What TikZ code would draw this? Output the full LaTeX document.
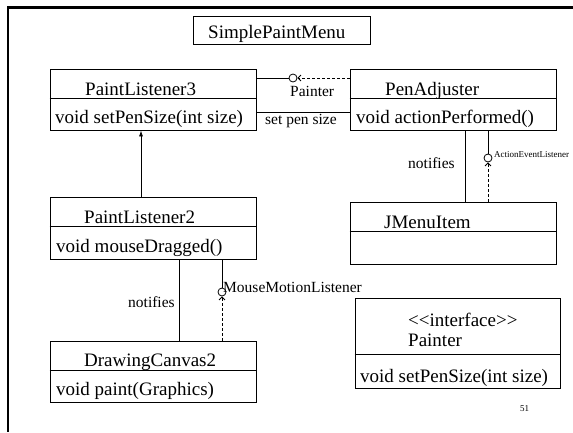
\documentclass[tikz,border=0pt]{standalone}
\usepackage{fontspec}
\setmainfont{Liberation Serif}
\usetikzlibrary{arrows.meta}
\tikzset{
  boxst/.style={draw, line width=0.8pt, rectangle, inner sep=0pt},
  divst/.style={line width=0.8pt},
  big/.style={anchor=base west, inner sep=0pt, font=\fontsize{19}{22}\selectfont},
  lbl/.style={anchor=base west, inner sep=0pt, font=\fontsize{15.5}{18}\selectfont},
  tiny/.style={anchor=base west, inner sep=0pt, font=\fontsize{9}{10}\selectfont},
  conn/.style={line width=0.8pt},
  dconn/.style={line width=0.8pt, dash pattern=on 3pt off 2pt},
  lolli/.style={draw, circle, line width=0.8pt, minimum size=8pt, inner sep=0pt},
  barb/.style={-{Straight Barb[length=3pt,width=6pt,line width=0.8pt]}},
  frame/.style={line width=2.5pt}
}
\begin{document}
\begin{tikzpicture}[x=1pt,y=-1pt]
\useasboundingbox (0,0) rectangle (573,432);
% slide frame
\coordinate (ftl) at (8,7.5);
\coordinate (ftr) at (573,7.5);
\coordinate (fbl) at (8,432);
\draw[frame] (ftr) -- (ftl) -- (fbl);

% SimplePaintMenu
\node[boxst, minimum width=177pt, minimum height=28pt] (spm) at (281.5,30) {};
\node[big] (spmt) at (208,38) {SimplePaintMenu};

% PaintListener3
\node[boxst, minimum width=206pt, minimum height=61pt] (pl3) at (153,99.5) {};
\draw[divst] (pl3.west |- 0,98) -- (pl3.east |- 0,98);
\node[big] (pl3t) at (85,95) {PaintListener3};
\node[big] (pl3m) at (55,123) {void setPenSize(int size)};

% PenAdjuster
\node[boxst, minimum width=206pt, minimum height=61pt] (pa) at (453,99.5) {};
\draw[divst] (pa.west |- 0,98) -- (pa.east |- 0,98);
\node[big] (pat) at (385,95) {PenAdjuster};
\node[big] (pam) at (356,123) {void actionPerformed()};

% PaintListener2
\node[boxst, minimum width=206pt, minimum height=62pt] (pl2) at (153,228) {};
\draw[divst] (pl2.west |- 0,226) -- (pl2.east |- 0,226);
\node[big] (pl2t) at (84,223) {PaintListener2};
\node[big] (pl2m) at (56,252) {void mouseDragged()};

% DrawingCanvas2
\node[boxst, minimum width=206pt, minimum height=61pt] (dc2) at (153,371.5) {};
\draw[divst] (dc2.west |- 0,370) -- (dc2.east |- 0,370);
\node[big] (dc2t) at (84,366) {DrawingCanvas2};
\node[big] (dc2m) at (56,395) {void paint(Graphics)};

% JMenuItem
\node[boxst, minimum width=206pt, minimum height=62pt] (jmi) at (453,233) {};
\draw[divst] (jmi.west |- 0,231) -- (jmi.east |- 0,231);
\node[big] (jmit) at (384,228) {JMenuItem};

% Painter interface
\node[boxst, minimum width=205pt, minimum height=90pt] (pif) at (457.5,343) {};
\draw[divst] (pif.west |- 0,354) -- (pif.east |- 0,354);
\node[big] (pifs) at (408,326) {<\kern0pt<interface>\kern0pt>};
\node[big] (pifn) at (408,346) {Painter};
\node[big] (pifm) at (360,382) {void setPenSize(int size)};

% Painter lollipop between PaintListener3 and PenAdjuster
\node[lolli] (c1) at (293,78) {};
\draw[conn] (pl3.east |- c1) -- (c1.west);
\draw[dconn, barb] (pa.west |- c1) -- (c1.east);
\node[lbl] (c1l) at (290,96) {Painter};

% set pen size
\coordinate (sps) at (256,112);
\draw[conn] (pl3.east |- sps) -- (pa.west |- sps);
\node[lbl] (spsl) at (265,124) {set pen size};

% PaintListener2 -> PaintListener3
\coordinate (inh) at (141,0);
\draw[conn, -{Latex[length=6pt,width=4pt]}] (pl2.north -| inh) -- (pl3.south -| inh);

% notifies (left)
\coordinate (nl) at (179,0);
\draw[conn] (pl2.south -| nl) -- (dc2.north -| nl);
\node[lbl] (nll) at (128,307) {notifies};

% MouseMotionListener lollipop
\node[lolli] (c2) at (222,292) {};
\draw[conn] (pl2.south -| c2) -- (c2.north);
\draw[dconn, barb] (dc2.north -| c2) -- (c2.south);
\node[lbl] (c2l) at (223,292) {MouseMotionListener};

% notifies (right)
\coordinate (nr) at (465,0);
\draw[conn] (pa.south -| nr) -- (jmi.north -| nr);
\node[lbl] (nrl) at (408,168) {notifies};

% ActionEventListener lollipop
\node[lolli] (c3) at (488,158) {};
\draw[conn] (pa.south -| c3) -- (c3.north);
\draw[dconn, barb] (jmi.north -| c3) -- (c3.south);
\node[tiny] (c3l) at (494,157) {ActionEventListener};

% page number
\node[tiny] (pg) at (520,411) {51};
\end{tikzpicture}
\end{document}
